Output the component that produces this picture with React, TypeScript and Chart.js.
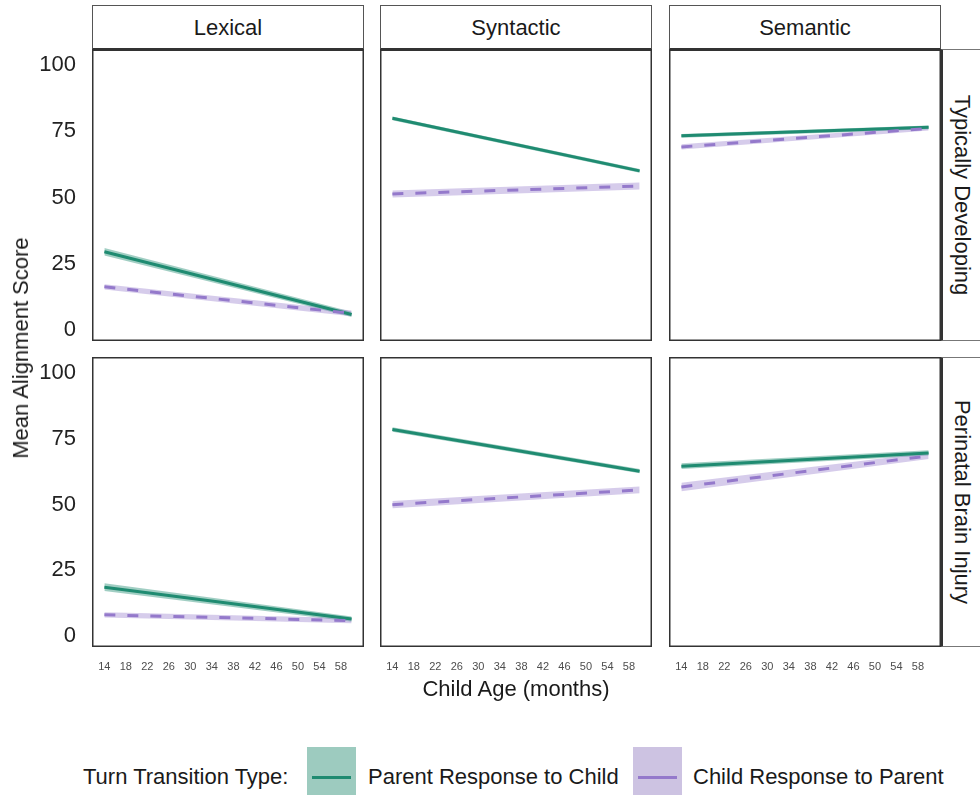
import React, { useEffect, useRef } from "react";
import { Chart, registerables } from "chart.js";

Chart.register(...registerables);

// ---------- data ----------
const ROW_LABELS = ["Typically Developing", "Perinatal Brain Injury"];
const COL_LABELS = ["Lexical", "Syntactic", "Semantic"];
const AGE_RANGE = [14, 60];
const X_TICKS = [14, 18, 22, 26, 30, 34, 38, 42, 46, 50, 54, 58];
const Y_TICKS = [0, 25, 50, 75, 100];

// [start, end] per column (Lexical, Syntactic, Semantic)
const PARENT_TD = [[28.6, 5.0], [78.9, 59.1], [72.3, 75.5]];
const PARENT_PBI = [[17.7, 5.6], [77.5, 61.7], [63.6, 68.6]];
const CHILD_TD = [[15.4, 5.4], [50.4, 53.4], [68.1, 75.1]];
const CHILD_PBI = [[7.2, 5.0], [49.0, 54.6], [55.7, 67.5]];

// confidence half-widths [start, end]
const PARENT_TD_CI = [[1.4, 1.0], [0.7, 0.7], [0.7, 0.7]];
const PARENT_PBI_CI = [[1.5, 1.0], [0.9, 0.8], [1.1, 1.0]];
const CHILD_TD_CI = [[1.0, 1.1], [1.3, 1.3], [1.0, 0.8]];
const CHILD_PBI_CI = [[1.0, 1.0], [1.4, 1.3], [1.6, 1.2]];

const SERIES_LABELS = ["Parent Response to Child", "Child Response to Parent"];
const LEGEND_TITLE = "Turn Transition Type:";
const X_TITLE = "Child Age (months)";
const Y_TITLE = "Mean Alignment Score";

// ---------- style ----------
const FONT = '"Liberation Sans", Arial, Helvetica, sans-serif';
const GREEN = "#1f8b71";
const GREEN_FILL = "rgba(31,139,113,0.42)";
const PURPLE = "#9479cb";
const PURPLE_FILL = "rgba(148,121,203,0.38)";

const COL_LEFT = [92, 380, 669];
const PANEL_W = 272;
const ROW_TOP = [49, 357];
const ROW_H = [292, 290];
const Y_AXIS_W = 62;
const X_AXIS_H = 32;

const panelBorder = {
  id: "panelBorder",
  afterDraw(chart: any) {
    const { ctx, chartArea: a } = chart;
    ctx.save();
    ctx.strokeStyle = "#333";
    ctx.lineWidth = 1.5;
    ctx.strokeRect(a.left + 0.75, a.top + 0.75, a.right - a.left - 1.5, a.bottom - a.top - 1.5);
    ctx.restore();
  },
};

function pts(vals: number[], off: number[] = [0, 0], sign = 0) {
  return AGE_RANGE.map((x, i) => ({ x, y: vals[i] + sign * off[i] }));
}

function Panel({ r, c }: { r: number; c: number }) {
  const ref = useRef<HTMLCanvasElement | null>(null);
  const showY = c === 0;
  const showX = r === 1;
  const w = PANEL_W + (showY ? Y_AXIS_W : 0);
  const h = ROW_H[r] + (showX ? X_AXIS_H : 0);
  const left = COL_LEFT[c] - (showY ? Y_AXIS_W : 0);
  const top = ROW_TOP[r];

  useEffect(() => {
    if (!ref.current) return;
    const parent = (r === 0 ? PARENT_TD : PARENT_PBI)[c];
    const child = (r === 0 ? CHILD_TD : CHILD_PBI)[c];
    const pci = (r === 0 ? PARENT_TD_CI : PARENT_PBI_CI)[c];
    const cci = (r === 0 ? CHILD_TD_CI : CHILD_PBI_CI)[c];
    const base = { pointRadius: 0, pointHoverRadius: 0, tension: 0 };
    const chart = new Chart(ref.current, {
      type: "line",
      data: {
        datasets: [
          { ...base, label: SERIES_LABELS[1], data: pts(child), borderColor: PURPLE, borderWidth: 3, borderDash: [11, 12], fill: false },
          { ...base, label: SERIES_LABELS[0], data: pts(parent), borderColor: GREEN, borderWidth: 3, fill: false },
          { ...base, label: "cu", data: pts(child, cci, 1), borderWidth: 0, borderColor: "transparent", backgroundColor: PURPLE_FILL, fill: "+1" },
          { ...base, label: "cl", data: pts(child, cci, -1), borderWidth: 0, borderColor: "transparent", fill: false },
          { ...base, label: "pu", data: pts(parent, pci, 1), borderWidth: 0, borderColor: "transparent", backgroundColor: GREEN_FILL, fill: "+1" },
          { ...base, label: "pl", data: pts(parent, pci, -1), borderWidth: 0, borderColor: "transparent", fill: false },
        ] as any,
      },
      options: {
        animation: false,
        responsive: false,
        maintainAspectRatio: false,
        layout: { padding: 0 },
        events: [],
        plugins: { legend: { display: false }, tooltip: { enabled: false } },
        scales: {
          x: {
            type: "linear",
            min: 11.7,
            max: 62.3,
            display: showX,
            position: "bottom",
            grid: { display: false, drawTicks: false },
            border: { display: false },
            afterBuildTicks: (s: any) => {
              s.ticks = X_TICKS.map((v) => ({ value: v }));
            },
            afterFit: (s: any) => {
              s.height = showX ? X_AXIS_H : 0;
              s.paddingLeft = 0;
              s.paddingRight = 0;
              s.paddingTop = 0;
              s.paddingBottom = 0;
            },
            ticks: {
              padding: 13,
              maxRotation: 0,
              autoSkip: false,
              color: "#4d4d4d",
              font: { family: FONT, size: 11 },
            },
          },
          y: {
            type: "linear",
            min: -5,
            max: 105,
            display: showY,
            position: "left",
            grid: { display: false, drawTicks: false },
            border: { display: false },
            afterBuildTicks: (s: any) => {
              s.ticks = Y_TICKS.map((v) => ({ value: v }));
            },
            afterFit: (s: any) => {
              s.width = showY ? Y_AXIS_W : 0;
              s.paddingTop = 0;
              s.paddingBottom = 0;
              s.paddingLeft = 0;
              s.paddingRight = 0;
            },
            ticks: {
              padding: 16,
              labelOffset: 2.5,
              color: "#222",
              font: { family: FONT, size: 22 },
            },
          },
        },
      } as any,
      plugins: [panelBorder],
    });
    return () => chart.destroy();
  }, [r, c]);

  return (
    <div style={{ position: "absolute", left, top, width: w, height: h }}>
      <canvas ref={ref} width={w} height={h} style={{ width: w, height: h, display: "block" }} />
    </div>
  );
}

const textBase: React.CSSProperties = {
  position: "absolute",
  fontFamily: FONT,
  fontSize: 22,
  color: "#1a1a1a",
  whiteSpace: "nowrap",
  lineHeight: "26px",
};

function CenterText({ x, y, text, rotate = 0, size = 22 }: { x: number; y: number; text: string; rotate?: number; size?: number }) {
  return (
    <div
      style={{
        ...textBase,
        fontSize: size,
        left: x,
        top: y,
        transform: `translate(-50%, -50%) rotate(${rotate}deg)`,
      }}
    >
      {text}
    </div>
  );
}

export default function App() {
  const panels = [];
  for (let r = 0; r < 2; r++) for (let c = 0; c < 3; c++) panels.push(<Panel key={`${r}-${c}`} r={r} c={c} />);

  return (
    <div style={{ position: "absolute", left: 0, top: 0, width: 980, height: 795, background: "#fff", overflow: "hidden" }}>
      {/* top strips */}
      {COL_LABELS.map((lab, c) => (
        <div
          key={lab}
          style={{
            position: "absolute",
            left: COL_LEFT[c],
            top: 5,
            width: PANEL_W,
            height: 46,
            boxSizing: "border-box",
            border: "1px solid #555",
            borderBottom: "3px solid #333",
            background: "#fff",
          }}
        />
      ))}
      {COL_LABELS.map((lab, c) => (
        <CenterText key={"t" + lab} x={COL_LEFT[c] + PANEL_W / 2} y={27.5} text={lab} />
      ))}
      {/* right strips */}
      {ROW_LABELS.map((lab, r) => (
        <div
          key={lab}
          style={{
            position: "absolute",
            left: 940,
            top: ROW_TOP[r],
            width: 60,
            height: ROW_H[r],
            boxSizing: "border-box",
            border: "1px solid #777",
            borderLeft: "3px solid #333",
            background: "#fff",
          }}
        />
      ))}
      {ROW_LABELS.map((lab, r) => (
        <CenterText key={"r" + lab} x={962} y={ROW_TOP[r] + ROW_H[r] / 2} text={lab} rotate={90} />
      ))}
      {panels}
      {/* axis titles */}
      <CenterText x={21} y={348} text={Y_TITLE} rotate={-90} />
      <CenterText x={516} y={689} text={X_TITLE} />
      {/* legend */}
      <div style={{ ...textBase, left: 83, top: 777 - 13 }}>{LEGEND_TITLE}</div>
      <div style={{ position: "absolute", left: 307, top: 747, width: 49, height: 60, background: "#9dcbbf" }}>
        <div style={{ position: "absolute", left: 5, right: 5, top: 29, height: 3, background: GREEN }} />
      </div>
      <div style={{ ...textBase, left: 368, top: 777 - 13 }}>{SERIES_LABELS[0]}</div>
      <div style={{ position: "absolute", left: 633, top: 747, width: 49, height: 60, background: "#cdc3e2" }}>
        <div style={{ position: "absolute", left: 5, right: 5, top: 29, height: 3, background: PURPLE }} />
      </div>
      <div style={{ ...textBase, left: 693, top: 777 - 13 }}>{SERIES_LABELS[1]}</div>
    </div>
  );
}
